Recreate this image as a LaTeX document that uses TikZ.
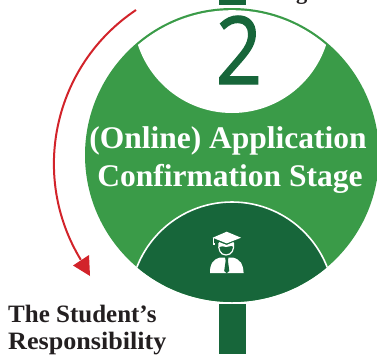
\documentclass[tikz,border=0pt]{standalone}
\usepackage{fontspec}
\setmainfont{Liberation Serif}
\newfontfamily\digitfont[FakeBold=1.5]{Open Sans}
\definecolor{lightgreen}{HTML}{3A9B48}
\definecolor{darkgreen}{HTML}{17663A}
\definecolor{arrowred}{HTML}{D2232A}
\definecolor{inkdark}{HTML}{231F20}
\tikzset{
  titletext/.style={text=white,font=\bfseries\fontsize{31.5}{32}\selectfont,inner sep=0pt,anchor=base},
  resptext/.style={text=inkdark,font=\bfseries\fontsize{25}{26}\selectfont,inner sep=0pt,anchor=base west},
  stem/.style={fill=darkgreen,draw=none}
}
\begin{document}
\begin{tikzpicture}[x=1pt,y=-1pt]
\useasboundingbox (0,0) rectangle (377,354);
\clip (0,0) rectangle (377,354);
% stems
\fill[stem] (219,0) rectangle (246,5);
\fill[stem] (219,304) rectangle (246,354);
% main disc
\fill[lightgreen] (232,155) circle[radius=147];
% upper white lens
\begin{scope}
  \clip (232,155) circle[radius=144.8];
  \fill[white] (232,14) circle[radius=99];
\end{scope}
% lower dark segment
\begin{scope}
  \clip (232,155) circle[radius=147];
  \filldraw[fill=darkgreen,draw=white,line width=1.6pt] (232,304) circle[radius=102];
\end{scope}
% digit
\node[text=darkgreen,inner sep=0pt,anchor=base,xscale=0.86] (digit) at (239,84) {\digitfont\fontsize{94}{94}\selectfont 2};
% title
\node[titletext] (line1) at (228,148) {(Online) Application};
\node[titletext] (line2) at (230,186) {Confirmation Stage};
% graduate icon
\fill[white] (212.7,237.7) -- (226.7,231.7) -- (241,237.7) -- (226.7,243.4) -- cycle;
\draw[white,line width=0.9pt] (213.6,238) -- (213.6,243);
\fill[white] (212.6,243) rectangle (214.6,245);
\draw[white,line width=1.2pt] (219,243) .. controls (218,249) and (220,255) .. (226,255) .. controls (232,255) and (234.5,249) .. (233.5,243);
\fill[white] (219,242) -- (226.7,245) -- (233.5,242) -- (233.5,247) .. controls (231,244) and (229,248) .. (226,247) .. controls (224,246) and (221,246) .. (219,247) -- cycle;
\fill[white] (210,273) .. controls (210,264) and (212,260) .. (220,257.5) -- (233,257.5) .. controls (241,260) and (243,264) .. (243.6,273) -- cycle;
\fill[darkgreen] (225,256.5) -- (228.5,256.5) -- (228,261) -- (229.3,271) -- (226.7,273.2) -- (224.2,271) -- (225.6,261) -- cycle;
% red arrow
\draw[arrowred,line width=2pt] (136,10) arc[start angle=236.2,end angle=148.7,radius=185];
\fill[arrowred] (73,265.5) -- (89,255) -- (90,276) -- cycle;
% responsibility label
\node[resptext] (resp1) at (8,322) {The Student’s};
\node[resptext,xscale=1.045] (resp2) at (8,349) {Responsibility};
% cut-off caption at the top
\node[text=inkdark,font=\bfseries\fontsize{22.5}{24}\selectfont,inner sep=0pt,anchor=base west] (cap) at (296,-1) {g};
\end{tikzpicture}
\end{document}
